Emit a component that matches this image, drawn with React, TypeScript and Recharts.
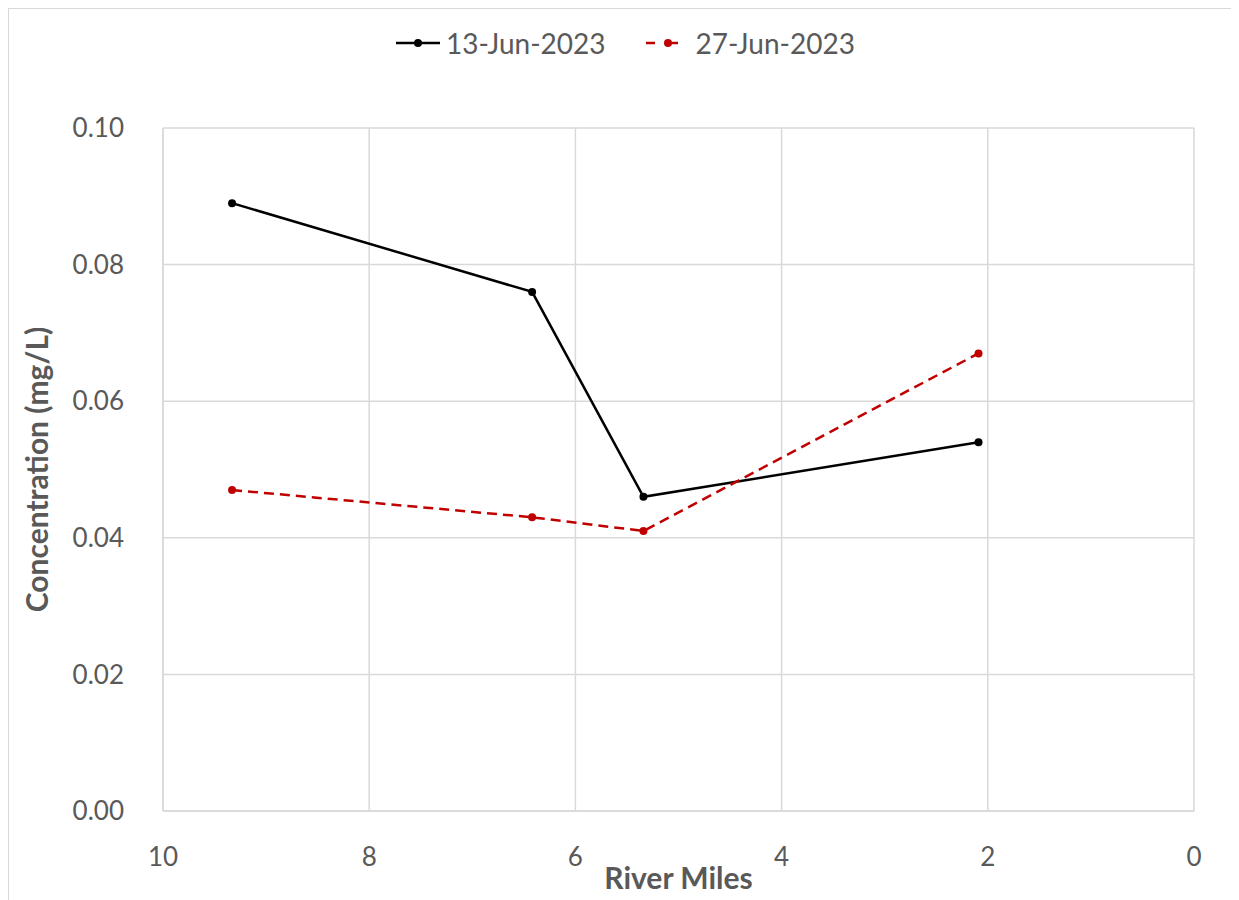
import { CartesianGrid, Line, LineChart, XAxis, YAxis, Label } from "recharts";

const riverMiles = [9.33, 6.42, 5.34, 2.09];
const jun13 = [0.089, 0.076, 0.046, 0.054];
const jun27 = [0.047, 0.043, 0.041, 0.067];
const xTicks = [0, 2, 4, 6, 8, 10];
const yTicks = [0, 0.02, 0.04, 0.06, 0.08, 0.1];

const data = riverMiles.map((x, i) => ({ x, a: jun13[i], b: jun27[i] }));

const FONT = "Lato, 'Open Sans', sans-serif";
const GREY = "#595959";

function LegendBox() {
  return (
    <div style={{ position: "absolute", top: 17, left: 0, width: 1231, display: "flex", justifyContent: "center", gap: 38, fontFamily: FONT, fontSize: 28, color: GREY }}>
      <div style={{ display: "flex", alignItems: "center" }}>
        <svg width={48} height={16} style={{ marginRight: 4 }}>
          <line x1={2} y1={8} x2={46} y2={8} stroke="#000" strokeWidth={2.5} />
          <circle cx={24} cy={8} r={4} fill="#000" />
        </svg>
        13-Jun-2023
      </div>
      <div style={{ display: "flex", alignItems: "center" }}>
        <svg width={48} height={16} style={{ marginRight: 4 }}>
          <line x1={2} y1={8} x2={46} y2={8} stroke="#c00000" strokeWidth={2.5} strokeDasharray="9 14" />
          <circle cx={24} cy={8} r={4} fill="#c00000" />
        </svg>
        27-Jun-2023
      </div>
    </div>
  );
}

export default function App() {
  return (
    <div style={{ position: "relative", marginLeft: -1, marginTop: -1, borderLeft: "2px solid #d9d9d9", borderTop: "2px solid #d9d9d9", width: 1240, height: 900, background: "#fff" }}>
      <LegendBox />
      <LineChart width={1231} height={892} data={data} margin={{ top: 119, right: 46, bottom: 0, left: 0 }}>
        <CartesianGrid stroke="#d9d9d9" strokeWidth={1.5} />
        <XAxis
          dataKey="x"
          type="number"
          domain={[0, 10]}
          ticks={xTicks}
          reversed
          height={90}
          axisLine={{ stroke: "#d9d9d9", strokeWidth: 1.5 }}
          tickLine={false}
          tickSize={0}
          tickMargin={37}
          tick={{ fill: GREY, fontSize: 26, fontFamily: FONT }}
        >
          <Label value="River Miles" position="insideBottom" offset={12} style={{ fill: GREY, fontSize: 30, fontWeight: 700, fontFamily: FONT }} />
        </XAxis>
        <YAxis
          type="number"
          domain={[0, 0.1]}
          ticks={yTicks}
          width={154}
          axisLine={{ stroke: "#d9d9d9", strokeWidth: 1.5 }}
          tickLine={false}
          tickSize={0}
          tickMargin={39}
          tickFormatter={(v: number) => v.toFixed(2)}
          tick={{ fill: GREY, fontSize: 26, fontFamily: FONT }}
        >
          <Label value="Concentration (mg/L)" angle={-90} position="insideLeft" offset={28} style={{ fill: GREY, fontSize: 30, fontWeight: 700, fontFamily: FONT, textAnchor: "middle" }} />
        </YAxis>
        <Line dataKey="a" stroke="#000" strokeWidth={2.5} dot={{ r: 4, fill: "#000", stroke: "#000", strokeWidth: 0 }} isAnimationActive={false} />
        <Line dataKey="b" stroke="#c00000" strokeWidth={2.5} strokeDasharray="10 6" dot={{ r: 4, fill: "#c00000", stroke: "#c00000", strokeWidth: 0 }} isAnimationActive={false} />
      </LineChart>
    </div>
  );
}
